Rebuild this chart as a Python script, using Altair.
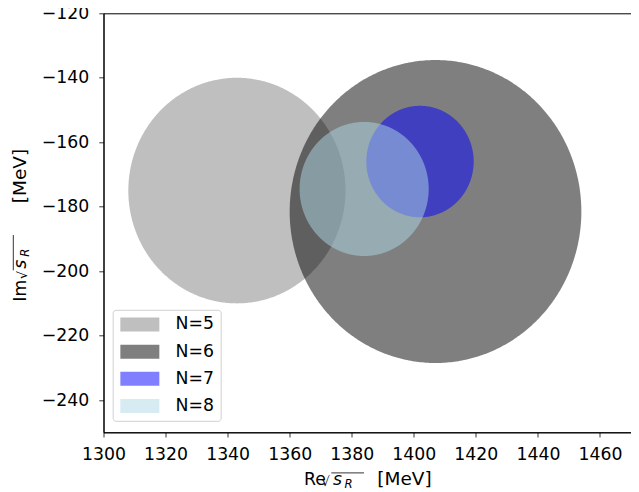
import numpy as np
import pandas as pd
import altair as alt

# --- data ---
labels = ["N=5", "N=6", "N=7", "N=8"]
centers_re = [1343.0, 1407.0, 1402.0, 1384.0]
centers_im = [-175.0, -181.5, -166.0, -174.5]
radii = [35.0, 47.0, 17.3, 20.8]
colors = ["#bfbfbf", "rgba(0,0,0,0.5)", "rgba(0,0,255,0.5)", "rgba(173,216,230,0.5)"]

x_ticks = [1300, 1320, 1340, 1360, 1380, 1400, 1420, 1440, 1460]
y_ticks = [-240, -220, -200, -180, -160, -140, -120]

rows = []
t = np.linspace(np.pi, 0, 241)
for lab, cx, cy, r in zip(labels, centers_re, centers_im, radii):
    for i, ti in enumerate(t):
        rows.append({"series": lab, "x": float(cx + r * np.cos(ti)),
                     "y_hi": float(cy + r * np.sin(ti)), "y_lo": float(cy - r * np.sin(ti))})
df = pd.DataFrame(rows)

FONT = "DejaVu Sans"
FS = 17.3

circles = alt.Chart(df).mark_area(opacity=1).encode(
    x=alt.X("x:Q", scale=alt.Scale(domain=[1300, 1470], nice=False, zero=False),
            axis=alt.Axis(values=x_ticks, title=None, format="d", labelPadding=8)),
    y=alt.Y("y_hi:Q", scale=alt.Scale(domain=[-250, -120], nice=False, zero=False),
            axis=alt.Axis(values=y_ticks, title=None, format="d", labelPadding=10)),
    y2="y_lo:Q",
    color=alt.Color("series:N", scale=alt.Scale(domain=labels, range=colors),
                    legend=alt.Legend(title=None, orient="none", legendX=9.2, legendY=296.5,
                                      symbolType="M-1,-1H4.57V1H-1Z", symbolSize=196,
                                      symbolStrokeWidth=0, symbolOpacity=1,
                                      labelFont=FONT, labelFontSize=FS, labelColor="black",
                                      labelOffset=39.6, rowPadding=9.2,
                                      fillColor="white", strokeColor="#d0d0d0",
                                      cornerRadius=3, padding=6)),
)

def txt(s, x, y, size=FS, style="normal", angle=0):
    return alt.Chart(pd.DataFrame({"t": [s]})).mark_text(
        text=s, font=FONT, fontSize=size, fontStyle=style, align="left",
        baseline="alphabetic", angle=angle, color="black"
    ).encode(x=alt.value(x), y=alt.value(y))

def hline(x1, x2, y):
    return alt.Chart(pd.DataFrame({"a": [0]})).mark_rule(color="black", strokeWidth=0.8).encode(
        x=alt.value(x1), x2=alt.value(x2), y=alt.value(y))

def vline(x, y1, y2):
    return alt.Chart(pd.DataFrame({"a": [0]})).mark_rule(color="black", strokeWidth=0.8).encode(
        x=alt.value(x), y=alt.value(y1), y2=alt.value(y2))

xt = [
    txt("Re", 200.5, 471.7),
    txt("√", 218.0, 472.7, size=13),
    hline(227.8, 260.5, 459.6),
    txt("s", 229.5, 471.7, style="italic"),
    txt("R", 241.0, 475.0, size=11.7, style="italic"),
    txt("[MeV]", 273.8, 471.7, size=18.5),
]
yt = [
    txt("Im", -77.5, 288.4, angle=270),
    txt("√", -76.5, 266.0, size=13, angle=270),
    vline(-90.2, 221.7, 257.0),
    txt("s", -77.5, 255.5, style="italic", angle=270),
    txt("R", -74.2, 243.5, size=11.7, style="italic", angle=270),
    txt("[MeV]", -77.5, 190.0, size=18.5, angle=270),
]

chart = alt.layer(circles, *xt, *yt).properties(
    width=527.5, height=419,
    autosize=alt.AutoSizeParams(type="none"),
    padding={"left": 95.5, "top": 5.3, "right": 0, "bottom": 59.7},
).configure_view(stroke="black", strokeWidth=1).configure_axis(
    grid=False, domainColor="black", domainWidth=1, tickColor="black", tickSize=4.7,
    tickWidth=0.8, labelFont=FONT, labelFontSize=FS, labelColor="black",
    labelFlush=False, labelOverlap=False,
)

chart.save("out.html", embed_options={"renderer": "svg", "actions": False})
